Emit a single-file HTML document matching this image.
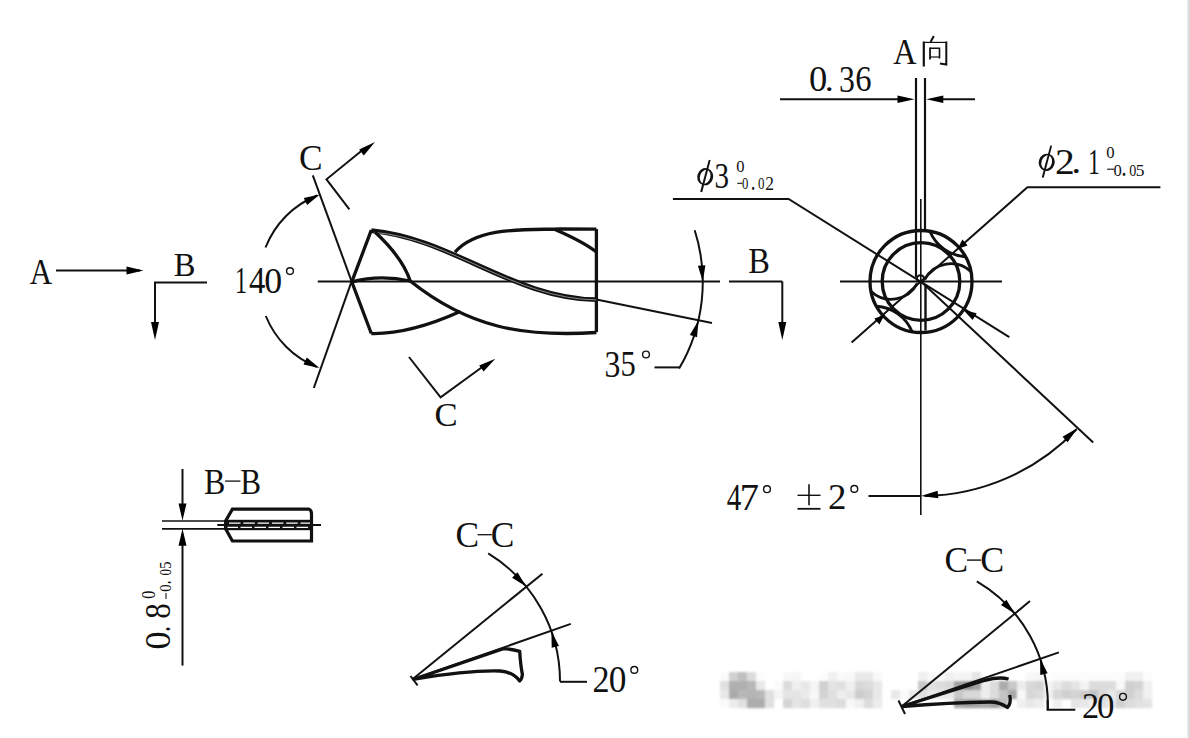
<!DOCTYPE html>
<html><head><meta charset="utf-8"><style>
html,body{margin:0;padding:0;background:#fff;overflow:hidden;}
svg{display:block;}
text{font-family:"Liberation Serif",serif;fill:#111;stroke:none;}
</style></head><body>
<svg width="1190" height="738" viewBox="0 0 1190 738" stroke="#111" fill="none">
<rect x="1187.5" y="0" width="2.5" height="738" fill="#dcdcdc" stroke="none"/>
<defs><filter id="wb" x="-5%" y="-20%" width="110%" height="140%"><feGaussianBlur stdDeviation="0.9"/></filter></defs><g filter="url(#wb)">
<rect x="720" y="672" width="9.2" height="9.2" fill="#fafafa" stroke="none"/>
<rect x="729" y="672" width="9.2" height="9.2" fill="#d0d0d0" stroke="none"/>
<rect x="738" y="672" width="9.2" height="9.2" fill="#c0c0c0" stroke="none"/>
<rect x="747" y="672" width="9.2" height="9.2" fill="#dcdcdc" stroke="none"/>
<rect x="756" y="672" width="9.2" height="9.2" fill="#fcfcfc" stroke="none"/>
<rect x="783" y="672" width="9.2" height="9.2" fill="#f8f8f8" stroke="none"/>
<rect x="792" y="672" width="9.2" height="9.2" fill="#f5f5f5" stroke="none"/>
<rect x="819" y="672" width="9.2" height="9.2" fill="#fcfcfc" stroke="none"/>
<rect x="828" y="672" width="9.2" height="9.2" fill="#f0f0f0" stroke="none"/>
<rect x="837" y="672" width="9.2" height="9.2" fill="#fafafa" stroke="none"/>
<rect x="846" y="672" width="9.2" height="9.2" fill="#f8f8f8" stroke="none"/>
<rect x="855" y="672" width="9.2" height="9.2" fill="#e8e8e8" stroke="none"/>
<rect x="864" y="672" width="9.2" height="9.2" fill="#e8e8e8" stroke="none"/>
<rect x="873" y="672" width="9.2" height="9.2" fill="#f8f8f8" stroke="none"/>
<rect x="918" y="672" width="9.2" height="9.2" fill="#f0f0f0" stroke="none"/>
<rect x="927" y="672" width="9.2" height="9.2" fill="#f8f8f8" stroke="none"/>
<rect x="936" y="672" width="9.2" height="9.2" fill="#f8f8f8" stroke="none"/>
<rect x="945" y="672" width="9.2" height="9.2" fill="#f0f0f0" stroke="none"/>
<rect x="954" y="672" width="9.2" height="9.2" fill="#f4f4f4" stroke="none"/>
<rect x="963" y="672" width="9.2" height="9.2" fill="#f4f4f4" stroke="none"/>
<rect x="972" y="672" width="9.2" height="9.2" fill="#e4e4e4" stroke="none"/>
<rect x="1026" y="672" width="9.2" height="9.2" fill="#f8f8f8" stroke="none"/>
<rect x="1035" y="672" width="9.2" height="9.2" fill="#f4f4f4" stroke="none"/>
<rect x="1053" y="672" width="9.2" height="9.2" fill="#fcfcfc" stroke="none"/>
<rect x="1062" y="672" width="9.2" height="9.2" fill="#fcfcfc" stroke="none"/>
<rect x="1071" y="672" width="9.2" height="9.2" fill="#fcfcfc" stroke="none"/>
<rect x="1080" y="672" width="9.2" height="9.2" fill="#fcfcfc" stroke="none"/>
<rect x="1089" y="672" width="9.2" height="9.2" fill="#fcfcfc" stroke="none"/>
<rect x="1098" y="672" width="9.2" height="9.2" fill="#fcfcfc" stroke="none"/>
<rect x="1107" y="672" width="9.2" height="9.2" fill="#fcfcfc" stroke="none"/>
<rect x="1116" y="672" width="9.2" height="9.2" fill="#fcfcfc" stroke="none"/>
<rect x="1125" y="672" width="9.2" height="9.2" fill="#f0f0f0" stroke="none"/>
<rect x="1134" y="672" width="9.2" height="9.2" fill="#f0f0f0" stroke="none"/>
<rect x="1143" y="672" width="9.2" height="9.2" fill="#fcfcfc" stroke="none"/>
<rect x="720" y="681" width="9.2" height="9.2" fill="#e0e0e0" stroke="none"/>
<rect x="729" y="681" width="9.2" height="9.2" fill="#b0b0b0" stroke="none"/>
<rect x="738" y="681" width="9.2" height="9.2" fill="#b0b0b0" stroke="none"/>
<rect x="747" y="681" width="9.2" height="9.2" fill="#b8b8b8" stroke="none"/>
<rect x="756" y="681" width="9.2" height="9.2" fill="#e8e8e8" stroke="none"/>
<rect x="774" y="681" width="9.2" height="9.2" fill="#fafafa" stroke="none"/>
<rect x="783" y="681" width="9.2" height="9.2" fill="#dcdcdc" stroke="none"/>
<rect x="792" y="681" width="9.2" height="9.2" fill="#f0f0f0" stroke="none"/>
<rect x="801" y="681" width="9.2" height="9.2" fill="#e8e8e8" stroke="none"/>
<rect x="810" y="681" width="9.2" height="9.2" fill="#f5f5f5" stroke="none"/>
<rect x="819" y="681" width="9.2" height="9.2" fill="#d0d0d0" stroke="none"/>
<rect x="828" y="681" width="9.2" height="9.2" fill="#e4e4e4" stroke="none"/>
<rect x="837" y="681" width="9.2" height="9.2" fill="#e0e0e0" stroke="none"/>
<rect x="846" y="681" width="9.2" height="9.2" fill="#f0f0f0" stroke="none"/>
<rect x="855" y="681" width="9.2" height="9.2" fill="#d8d8d8" stroke="none"/>
<rect x="864" y="681" width="9.2" height="9.2" fill="#dcdcdc" stroke="none"/>
<rect x="873" y="681" width="9.2" height="9.2" fill="#e8e8e8" stroke="none"/>
<rect x="918" y="681" width="9.2" height="9.2" fill="#c8c8c8" stroke="none"/>
<rect x="927" y="681" width="9.2" height="9.2" fill="#e0e0e0" stroke="none"/>
<rect x="936" y="681" width="9.2" height="9.2" fill="#dcdcdc" stroke="none"/>
<rect x="945" y="681" width="9.2" height="9.2" fill="#d8d8d8" stroke="none"/>
<rect x="954" y="681" width="9.2" height="9.2" fill="#a0a0a0" stroke="none"/>
<rect x="963" y="681" width="9.2" height="9.2" fill="#909090" stroke="none"/>
<rect x="972" y="681" width="9.2" height="9.2" fill="#a0a0a0" stroke="none"/>
<rect x="981" y="681" width="9.2" height="9.2" fill="#ececec" stroke="none"/>
<rect x="990" y="681" width="9.2" height="9.2" fill="#dcdcdc" stroke="none"/>
<rect x="999" y="681" width="9.2" height="9.2" fill="#acacac" stroke="none"/>
<rect x="1008" y="681" width="9.2" height="9.2" fill="#c8c8c8" stroke="none"/>
<rect x="1017" y="681" width="9.2" height="9.2" fill="#ececec" stroke="none"/>
<rect x="1026" y="681" width="9.2" height="9.2" fill="#d8d8d8" stroke="none"/>
<rect x="1035" y="681" width="9.2" height="9.2" fill="#d4d4d4" stroke="none"/>
<rect x="1044" y="681" width="9.2" height="9.2" fill="#f4f4f4" stroke="none"/>
<rect x="1053" y="681" width="9.2" height="9.2" fill="#e8e8e8" stroke="none"/>
<rect x="1062" y="681" width="9.2" height="9.2" fill="#dcdcdc" stroke="none"/>
<rect x="1071" y="681" width="9.2" height="9.2" fill="#e4e4e4" stroke="none"/>
<rect x="1080" y="681" width="9.2" height="9.2" fill="#f4f4f4" stroke="none"/>
<rect x="1089" y="681" width="9.2" height="9.2" fill="#dcdcdc" stroke="none"/>
<rect x="1098" y="681" width="9.2" height="9.2" fill="#dcdcdc" stroke="none"/>
<rect x="1107" y="681" width="9.2" height="9.2" fill="#dcdcdc" stroke="none"/>
<rect x="1116" y="681" width="9.2" height="9.2" fill="#f8f8f8" stroke="none"/>
<rect x="1125" y="681" width="9.2" height="9.2" fill="#d0d0d0" stroke="none"/>
<rect x="1134" y="681" width="9.2" height="9.2" fill="#d4d4d4" stroke="none"/>
<rect x="1143" y="681" width="9.2" height="9.2" fill="#f0f0f0" stroke="none"/>
<rect x="720" y="690" width="9.2" height="9.2" fill="#e8e8e8" stroke="none"/>
<rect x="729" y="690" width="9.2" height="9.2" fill="#aaaaaa" stroke="none"/>
<rect x="738" y="690" width="9.2" height="9.2" fill="#b8b8b8" stroke="none"/>
<rect x="747" y="690" width="9.2" height="9.2" fill="#b4b4b4" stroke="none"/>
<rect x="756" y="690" width="9.2" height="9.2" fill="#b8b8b8" stroke="none"/>
<rect x="765" y="690" width="9.2" height="9.2" fill="#e0e0e0" stroke="none"/>
<rect x="774" y="690" width="9.2" height="9.2" fill="#f4f4f4" stroke="none"/>
<rect x="783" y="690" width="9.2" height="9.2" fill="#e4e4e4" stroke="none"/>
<rect x="792" y="690" width="9.2" height="9.2" fill="#e4e4e4" stroke="none"/>
<rect x="801" y="690" width="9.2" height="9.2" fill="#ebebeb" stroke="none"/>
<rect x="810" y="690" width="9.2" height="9.2" fill="#f8f8f8" stroke="none"/>
<rect x="819" y="690" width="9.2" height="9.2" fill="#d4d4d4" stroke="none"/>
<rect x="828" y="690" width="9.2" height="9.2" fill="#e0e0e0" stroke="none"/>
<rect x="837" y="690" width="9.2" height="9.2" fill="#eeeeee" stroke="none"/>
<rect x="846" y="690" width="9.2" height="9.2" fill="#e8e8e8" stroke="none"/>
<rect x="855" y="690" width="9.2" height="9.2" fill="#cccccc" stroke="none"/>
<rect x="864" y="690" width="9.2" height="9.2" fill="#d4d4d4" stroke="none"/>
<rect x="873" y="690" width="9.2" height="9.2" fill="#e8e8e8" stroke="none"/>
<rect x="891" y="690" width="9.2" height="9.2" fill="#e8e8e8" stroke="none"/>
<rect x="900" y="690" width="9.2" height="9.2" fill="#fafafa" stroke="none"/>
<rect x="909" y="690" width="9.2" height="9.2" fill="#e8e8e8" stroke="none"/>
<rect x="918" y="690" width="9.2" height="9.2" fill="#e0e0e0" stroke="none"/>
<rect x="927" y="690" width="9.2" height="9.2" fill="#e8e8e8" stroke="none"/>
<rect x="936" y="690" width="9.2" height="9.2" fill="#e8e8e8" stroke="none"/>
<rect x="945" y="690" width="9.2" height="9.2" fill="#e8e8e8" stroke="none"/>
<rect x="954" y="690" width="9.2" height="9.2" fill="#c8c8c8" stroke="none"/>
<rect x="963" y="690" width="9.2" height="9.2" fill="#d8d8d8" stroke="none"/>
<rect x="972" y="690" width="9.2" height="9.2" fill="#d8d8d8" stroke="none"/>
<rect x="981" y="690" width="9.2" height="9.2" fill="#eeeeee" stroke="none"/>
<rect x="990" y="690" width="9.2" height="9.2" fill="#dcdcdc" stroke="none"/>
<rect x="999" y="690" width="9.2" height="9.2" fill="#c4c4c4" stroke="none"/>
<rect x="1008" y="690" width="9.2" height="9.2" fill="#a8a8a8" stroke="none"/>
<rect x="1017" y="690" width="9.2" height="9.2" fill="#f8f8f8" stroke="none"/>
<rect x="1026" y="690" width="9.2" height="9.2" fill="#d8d8d8" stroke="none"/>
<rect x="1035" y="690" width="9.2" height="9.2" fill="#dcdcdc" stroke="none"/>
<rect x="1044" y="690" width="9.2" height="9.2" fill="#f0f0f0" stroke="none"/>
<rect x="1053" y="690" width="9.2" height="9.2" fill="#d8d8d8" stroke="none"/>
<rect x="1062" y="690" width="9.2" height="9.2" fill="#d0d0d0" stroke="none"/>
<rect x="1071" y="690" width="9.2" height="9.2" fill="#d4d4d4" stroke="none"/>
<rect x="1080" y="690" width="9.2" height="9.2" fill="#cccccc" stroke="none"/>
<rect x="1089" y="690" width="9.2" height="9.2" fill="#c4c4c4" stroke="none"/>
<rect x="1098" y="690" width="9.2" height="9.2" fill="#d8d8d8" stroke="none"/>
<rect x="1107" y="690" width="9.2" height="9.2" fill="#e8e8e8" stroke="none"/>
<rect x="1116" y="690" width="9.2" height="9.2" fill="#d8d8d8" stroke="none"/>
<rect x="1125" y="690" width="9.2" height="9.2" fill="#d0d0d0" stroke="none"/>
<rect x="1134" y="690" width="9.2" height="9.2" fill="#dcdcdc" stroke="none"/>
<rect x="1143" y="690" width="9.2" height="9.2" fill="#f0f0f0" stroke="none"/>
<rect x="720" y="699" width="9.2" height="9.2" fill="#fafafa" stroke="none"/>
<rect x="729" y="699" width="9.2" height="9.2" fill="#ececec" stroke="none"/>
<rect x="738" y="699" width="9.2" height="9.2" fill="#e0e0e0" stroke="none"/>
<rect x="747" y="699" width="9.2" height="9.2" fill="#adadad" stroke="none"/>
<rect x="756" y="699" width="9.2" height="9.2" fill="#adadad" stroke="none"/>
<rect x="765" y="699" width="9.2" height="9.2" fill="#e0e0e0" stroke="none"/>
<rect x="783" y="699" width="9.2" height="9.2" fill="#d4d4d4" stroke="none"/>
<rect x="792" y="699" width="9.2" height="9.2" fill="#e4e4e4" stroke="none"/>
<rect x="801" y="699" width="9.2" height="9.2" fill="#dedede" stroke="none"/>
<rect x="810" y="699" width="9.2" height="9.2" fill="#f0f0f0" stroke="none"/>
<rect x="819" y="699" width="9.2" height="9.2" fill="#e0e0e0" stroke="none"/>
<rect x="828" y="699" width="9.2" height="9.2" fill="#e0e0e0" stroke="none"/>
<rect x="837" y="699" width="9.2" height="9.2" fill="#dcdcdc" stroke="none"/>
<rect x="846" y="699" width="9.2" height="9.2" fill="#f8f8f8" stroke="none"/>
<rect x="855" y="699" width="9.2" height="9.2" fill="#f0f0f0" stroke="none"/>
<rect x="864" y="699" width="9.2" height="9.2" fill="#dcdcdc" stroke="none"/>
<rect x="873" y="699" width="9.2" height="9.2" fill="#ececec" stroke="none"/>
<rect x="954" y="699" width="9.2" height="9.2" fill="#a8a8a8" stroke="none"/>
<rect x="963" y="699" width="9.2" height="9.2" fill="#a0a0a0" stroke="none"/>
<rect x="972" y="699" width="9.2" height="9.2" fill="#a4a4a4" stroke="none"/>
<rect x="981" y="699" width="9.2" height="9.2" fill="#a8a8a8" stroke="none"/>
<rect x="990" y="699" width="9.2" height="9.2" fill="#a0a0a0" stroke="none"/>
<rect x="999" y="699" width="9.2" height="9.2" fill="#c0c0c0" stroke="none"/>
<rect x="1017" y="699" width="9.2" height="9.2" fill="#f0f0f0" stroke="none"/>
<rect x="1026" y="699" width="9.2" height="9.2" fill="#e8e8e8" stroke="none"/>
<rect x="1035" y="699" width="9.2" height="9.2" fill="#eeeeee" stroke="none"/>
<rect x="1053" y="699" width="9.2" height="9.2" fill="#f0f0f0" stroke="none"/>
<rect x="1071" y="699" width="9.2" height="9.2" fill="#e4e4e4" stroke="none"/>
<rect x="1080" y="699" width="9.2" height="9.2" fill="#e8e8e8" stroke="none"/>
<rect x="1089" y="699" width="9.2" height="9.2" fill="#f0f0f0" stroke="none"/>
<rect x="1098" y="699" width="9.2" height="9.2" fill="#e0e0e0" stroke="none"/>
<rect x="1107" y="699" width="9.2" height="9.2" fill="#e8e8e8" stroke="none"/>
<rect x="1116" y="699" width="9.2" height="9.2" fill="#d0d0d0" stroke="none"/>
<rect x="1125" y="699" width="9.2" height="9.2" fill="#dcdcdc" stroke="none"/>
<rect x="1134" y="699" width="9.2" height="9.2" fill="#e0e0e0" stroke="none"/>
<rect x="1143" y="699" width="9.2" height="9.2" fill="#e4e4e4" stroke="none"/>
</g>
<text transform="translate(29.79,283.53) scale(0.848,1)" font-size="36.56">A</text>
<line x1="56.0" y1="270.5" x2="140.0" y2="270.5" stroke-width="2.0"/>
<polygon points="143.5,270.5 126.5,274.5 126.5,266.5" stroke="none" fill="#000"/>
<text transform="translate(173.72,276.34) scale(0.966,1)" font-size="33.75">B</text>
<path d="M207,282.5 H155 V325" stroke-width="2.0" fill="none" />
<polygon points="155.0,340.0 151.0,322.0 159.0,322.0" stroke="none" fill="#000"/>
<line x1="312.8" y1="175.4" x2="351.6" y2="281.3" stroke-width="2.0"/>
<line x1="351.6" y1="281.3" x2="313.8" y2="388.0" stroke-width="2.0"/>
<path d="M265.5,247.5 A92.5,92.5 0 0 1 316.9,195.5" stroke-width="2.0" fill="none" />
<polygon points="319.8,194.4 307.1,204.9 303.8,198.0" stroke="none" fill="#000"/>
<path d="M265.8,316.0 A92.5,92.5 0 0 0 316.9,367.1" stroke-width="2.0" fill="none" />
<polygon points="319.5,368.1 303.5,364.4 306.8,357.6" stroke="none" fill="#000"/>
<text transform="translate(235.03,293.27) scale(0.653,1)" font-size="36.92">1</text>
<text transform="translate(248.95,293.27) scale(0.871,1)" font-size="37.50">4</text>
<text transform="translate(264.27,292.54) scale(0.986,1)" font-size="36.36">0</text>
<circle cx="290" cy="271.1" r="3.4" stroke-width="1.4" fill="none"/>
<text transform="translate(299.09,169.74) scale(0.980,1)" font-size="36.06">C</text>
<path d="M349.4,209.3 L326.5,179.3 L365,148" stroke-width="2.0" fill="none" />
<polygon points="375.0,142.0 363.8,155.4 359.2,149.4" stroke="none" fill="#000"/>
<path d="M409,357 L440.6,397.3 L485,365" stroke-width="2.0" fill="none" />
<polygon points="495.3,358.7 483.6,371.6 479.2,365.4" stroke="none" fill="#000"/>
<text transform="translate(434.51,426.37) scale(1.054,1)" font-size="32.88">C</text>
<line x1="317.8" y1="281.4" x2="720.0" y2="281.4" stroke-width="2.0"/>
<line x1="729.0" y1="281.4" x2="782.3" y2="281.4" stroke-width="2.0"/>
<path d="M782.3,281.4 V322" stroke-width="2.0" fill="none" />
<polygon points="782.3,340.0 778.3,322.0 786.3,322.0" stroke="none" fill="#000"/>
<text transform="translate(748.33,272.75) scale(0.926,1)" font-size="35.00">B</text>
<path d="M371.3,333.5 L351.8,281.8 L371.3,230.2" stroke-width="3.3" fill="none" />
<path d="M596.4,229.1 V332.1" stroke-width="3.3" fill="none" />
<path d="M371.3,230.6 C451.6,238.2 513.6,298.6 596.4,299.7" stroke-width="4.8" fill="none" />
<path d="M374,232.3 C451.6,238.7 513.6,298.8 596.4,299.9" stroke-width="0.8" fill="none" stroke="#aaa"/>
<path d="M375.0,232.0 C389.6,245.6 403.9,261.6 410.2,281.0" stroke-width="3.3" fill="none" />
<path d="M351.8,281.8 Q380,274.5 410.2,281" stroke-width="3.3" fill="none" />
<path d="M410.2,281.0 C468.7,327.6 522.7,337.2 596.4,332.5" stroke-width="3.3" fill="none" />
<path d="M371.3,333.5 Q409.6,334.3 460.2,311.5" stroke-width="3.3" fill="none" />
<path d="M455.0,252.2 C478.0,225.8 528.6,230.1 560.0,229.0 L596.4,229.1" stroke-width="3.3" fill="none" />
<path d="M555,229.5 Q583.7,242 596.4,252" stroke-width="3.3" fill="none" />
<line x1="596.4" y1="299.5" x2="712.0" y2="323.0" stroke-width="2.0"/>
<path d="M694.7,230.3 A170.1,170.1 0 0 1 679.1,368.6" stroke-width="2.0" fill="none" />
<polygon points="702.8,281.4 697.9,265.7 705.4,265.2" stroke="none" fill="#000"/>
<polygon points="698.3,320.8 697.1,337.2 689.8,334.9" stroke="none" fill="#000"/>
<path d="M679.8,367.4 H654.5" stroke-width="2.0" fill="none" />
<text transform="translate(604.51,376.60) scale(0.842,1)" font-size="37.69">3</text>
<text transform="translate(620.57,376.40) scale(0.844,1)" font-size="36.15">5</text>
<circle cx="646" cy="354.5" r="3.4" stroke-width="1.4" fill="none"/>
<line x1="916.0" y1="78.0" x2="916.0" y2="277.0" stroke-width="2.2"/>
<line x1="925.0" y1="78.0" x2="925.0" y2="230.0" stroke-width="2.2"/>
<line x1="920.8" y1="199.0" x2="920.8" y2="515.0" stroke-width="1.6"/>
<line x1="840.0" y1="281.5" x2="1002.0" y2="281.5" stroke-width="2.0"/>
<circle cx="921" cy="281.5" r="51" stroke-width="3.3" fill="none"/>
<circle cx="921" cy="281.5" r="38.8" stroke-width="3.3" fill="none"/>
<circle cx="920.5" cy="278.8" r="3.6" stroke-width="2" fill="none"/>
<line x1="925.5" y1="284.0" x2="925.5" y2="330.6" stroke-width="2.4"/>
<path d="M917.2,283.5 A29.5,29.5 0 0 1 870.9,291.2" stroke-width="2.7" fill="none" />
<path d="M924.8,279.5 A29.5,29.5 0 0 1 971.1,271.8" stroke-width="2.7" fill="none" />
<path d="M876.4,306.3 A41.2,41.2 0 0 1 912.1,331.7" stroke-width="2.9" fill="none" />
<path d="M965.6,256.7 A41.2,41.2 0 0 1 929.9,231.3" stroke-width="2.9" fill="none" />
<line x1="780.0" y1="99.2" x2="900.0" y2="99.2" stroke-width="2.0"/>
<polygon points="914.5,99.2 897.5,103.0 897.5,95.4" stroke="none" fill="#000"/>
<line x1="940.0" y1="99.2" x2="975.0" y2="99.2" stroke-width="2.0"/>
<polygon points="926.3,99.2 943.3,95.4 943.3,103.0" stroke="none" fill="#000"/>
<text transform="translate(809.04,91.44) scale(1.006,1)" font-size="36.36">0</text>
<text transform="translate(824.78,91.20) scale(1.131,1)" font-size="31.82">.</text>
<text transform="translate(839.11,91.80) scale(0.860,1)" font-size="36.92">3</text>
<text transform="translate(855.20,91.44) scale(0.897,1)" font-size="36.36">6</text>
<text transform="translate(893.28,64.13) scale(0.884,1)" font-size="36.41">A</text>
<path d="M923.8,41.5 V66.5" stroke-width="2.2" fill="none" />
<path d="M923.8,42.4 H946.5" stroke-width="1.2" fill="none" />
<path d="M946.3,41.5 V64.5 L940,63.5" stroke-width="2.0" fill="none" />
<path d="M930,47.6 V59.4" stroke-width="1.8" fill="none" />
<path d="M930,48.2 H939.5 V58.5" stroke-width="1.6" fill="none" />
<path d="M930,57 H939.5" stroke-width="1.2" fill="none" />
<path d="M933.8,36 L930.6,42" stroke-width="2.0" fill="none" />
<path d="M672.9,199 H788.6 L1009.3,337.2" stroke-width="2.0" fill="none" />
<polygon points="963.5,310.0 976.7,313.2 972.6,320.1" stroke="none" fill="#000"/>
<g transform="translate(705.2,176.7) rotate(18) scale(1.75,1)"><ellipse cx="0" cy="0" rx="3.75" ry="7.9" stroke-width="1.55" fill="none"/></g>
<path d="M710.6,160.2 L708.8,159.8 L700.2,191.8 L702.2,192.2 Z" stroke="none" fill="#111"/>
<text transform="translate(714.55,187.70) scale(0.834,1)" font-size="34.77">3</text>
<text transform="translate(736.24,172.43) scale(0.977,1)" font-size="16.97">0</text>
<line x1="737.3" y1="183.3" x2="742.2" y2="183.3" stroke-width="1.1"/>
<text transform="translate(742.09,189.43) scale(0.728,1)" font-size="17.42">0</text>
<text transform="translate(750.67,189.60) scale(0.697,1)" font-size="27.27">.</text>
<text transform="translate(757.88,189.43) scale(0.742,1)" font-size="17.42">0</text>
<text transform="translate(765.30,189.78) scale(0.970,1)" font-size="17.97">2</text>
<path d="M1160.4,187.3 H1027.4 L851.6,342.6" stroke-width="2.0" fill="none" />
<polygon points="957.5,249.0 962.4,239.4 967.6,245.4" stroke="none" fill="#000"/>
<polygon points="884.5,315.0 879.4,324.5 874.3,318.4" stroke="none" fill="#000"/>
<g transform="translate(1046.7,162.3) rotate(18) scale(1.75,1)"><ellipse cx="0" cy="0" rx="3.75" ry="7.9" stroke-width="1.55" fill="none"/></g>
<path d="M1052.1,145.8 L1050.3,145.4 L1041.7,177.4 L1043.7,177.8 Z" stroke="none" fill="#111"/>
<text transform="translate(1055.02,173.57) scale(1.075,1)" font-size="36.72">2</text>
<text transform="translate(1071.20,173.20) scale(1.222,1)" font-size="32.73">.</text>
<text transform="translate(1088.34,173.56) scale(0.635,1)" font-size="36.15">1</text>
<text transform="translate(1106.34,158.44) scale(1.053,1)" font-size="15.76">0</text>
<line x1="1107.1" y1="169.2" x2="1114.0" y2="169.2" stroke-width="1.1"/>
<text transform="translate(1113.44,175.53) scale(0.960,1)" font-size="17.27">0</text>
<text transform="translate(1121.16,175.70) scale(0.781,1)" font-size="28.18">.</text>
<text transform="translate(1129.13,175.53) scale(0.819,1)" font-size="17.27">0</text>
<text transform="translate(1135.75,175.70) scale(0.994,1)" font-size="17.54">5</text>
<line x1="921.0" y1="281.5" x2="1093.2" y2="442.5" stroke-width="2.0"/>
<path d="M1076.6,429.2 A214.5,214.5 0 0 1 924.7,496.0" stroke-width="2.0" fill="none" />
<polygon points="1077.6,428.1 1067.6,442.3 1062.5,436.7" stroke="none" fill="#000"/>
<polygon points="921.0,496.0 937.6,490.7 938.3,498.3" stroke="none" fill="#000"/>
<line x1="868.5" y1="496.0" x2="920.5" y2="496.0" stroke-width="2.0"/>
<text transform="translate(726.72,509.98) scale(0.770,1)" font-size="37.81">4</text>
<text transform="translate(739.71,509.98) scale(1.017,1)" font-size="37.81">7</text>
<circle cx="767" cy="489.2" r="3.4" stroke-width="1.4" fill="none"/>
<line x1="797.5" y1="495.3" x2="820.5" y2="495.3" stroke-width="1.4"/>
<line x1="809.0" y1="484.2" x2="809.0" y2="505.2" stroke-width="1.6"/>
<line x1="797.5" y1="508.8" x2="820.5" y2="508.8" stroke-width="1.8"/>
<text transform="translate(827.92,509.26) scale(1.023,1)" font-size="36.09">2</text>
<circle cx="854.3" cy="488.9" r="3.4" stroke-width="1.4" fill="none"/>
<text transform="translate(204.04,493.95) scale(0.912,1)" font-size="35.16">B</text>
<line x1="225.1" y1="481.1" x2="240.4" y2="481.1" stroke-width="1.3"/>
<text transform="translate(240.16,493.95) scale(0.888,1)" font-size="35.16">B</text>
<line x1="182.5" y1="469.0" x2="182.5" y2="505.0" stroke-width="2.0"/>
<polygon points="182.5,520.5 178.5,503.5 186.5,503.5" stroke="none" fill="#000"/>
<line x1="182.5" y1="545.0" x2="182.5" y2="665.6" stroke-width="2.0"/>
<polygon points="182.5,528.8 186.5,545.8 178.5,545.8" stroke="none" fill="#000"/>
<line x1="162.0" y1="521.0" x2="226.0" y2="521.0" stroke-width="1.7"/>
<line x1="162.0" y1="528.8" x2="226.0" y2="528.8" stroke-width="1.7"/>
<path d="M232.4,509.2 H309 Q311.5,510 311.5,514 V541 H232.4 L225.6,528.8 V521 Z" stroke-width="3.2" fill="none" />
<rect x="225.6" y="519.8" width="86" height="10.4" fill="#111" stroke="none"/>
<path d="M229,523.1 H310" stroke-width="1.3" fill="none" stroke="#fff" stroke-dasharray="11.5 2.8"/>
<path d="M227.5,527.3 H310" stroke-width="1.3" fill="none" stroke="#fff" stroke-dasharray="11.5 2.5" stroke-dashoffset="1"/>
<line x1="217.3" y1="525.0" x2="321.0" y2="525.0" stroke-width="2.0"/>
<text transform="translate(170.03,649.54) rotate(-90) scale(0.984,1)" font-size="36.67">0</text>
<text transform="translate(169.70,632.32) rotate(-90) scale(0.753,1)" font-size="34.55">.</text>
<text transform="translate(170.03,618.84) rotate(-90) scale(0.845,1)" font-size="36.67">8</text>
<text transform="translate(155.32,598.65) rotate(-90) scale(0.899,1)" font-size="18.18">0</text>
<line x1="166.0" y1="593.0" x2="166.0" y2="599.0" stroke-width="1.1"/>
<text transform="translate(170.94,591.79) rotate(-90) scale(0.911,1)" font-size="16.06">0</text>
<text transform="translate(171.10,584.01) rotate(-90) scale(0.477,1)" font-size="27.27">.</text>
<text transform="translate(170.94,575.42) rotate(-90) scale(0.805,1)" font-size="16.06">0</text>
<text transform="translate(171.10,569.01) rotate(-90) scale(0.928,1)" font-size="16.31">5</text>
<text transform="translate(455.49,547.13) scale(0.964,1)" font-size="36.67">C</text>
<line x1="477.6" y1="534.7" x2="491.8" y2="534.7" stroke-width="1.3"/>
<text transform="translate(490.79,547.13) scale(0.964,1)" font-size="36.67">C</text>
<line x1="412.2" y1="679.5" x2="542.4" y2="573.7" stroke-width="2.0"/>
<line x1="412.2" y1="679.5" x2="570.8" y2="623.9" stroke-width="2.0"/>
<path d="M488.2,553.4 A150,150 0 0 1 560.0,681.4" stroke-width="2.0" fill="none" />
<polygon points="526.1,586.4 512.1,577.7 517.5,572.3" stroke="none" fill="#000"/>
<polygon points="551.4,631.3 559.0,645.9 551.7,647.8" stroke="none" fill="#000"/>
<line x1="560.0" y1="681.8" x2="587.0" y2="681.8" stroke-width="2.0"/>
<path d="M414.5,679 L503.3,648.7 Q512,649 519.7,651.4 Q520.5,665 522.4,674.3 Q522,679 519.7,680.9 Q513,672 500,671 Q470,670 414.5,679 Z" stroke-width="3.3" fill="none" stroke-linejoin="round"/>
<line x1="410.5" y1="676.0" x2="417.6" y2="685.3" stroke-width="2.0"/>
<text transform="translate(592.54,692.07) scale(0.925,1)" font-size="36.87">2</text>
<text transform="translate(608.69,691.63) scale(0.953,1)" font-size="37.12">0</text>
<circle cx="634.3" cy="669.9" r="3.4" stroke-width="1.4" fill="none"/>
<text transform="translate(944.59,571.94) scale(0.989,1)" font-size="35.76">C</text>
<line x1="967.0" y1="560.1" x2="981.2" y2="560.1" stroke-width="1.4"/>
<text transform="translate(980.16,571.94) scale(1.004,1)" font-size="35.76">C</text>
<line x1="901.6" y1="706.5" x2="1030.0" y2="601.1" stroke-width="2.0"/>
<line x1="901.6" y1="706.5" x2="1058.9" y2="652.4" stroke-width="2.0"/>
<path d="M976.8,581.3 A143.6,143.6 0 0 1 1047.8,710.3" stroke-width="2.0" fill="none" />
<polygon points="1014.9,613.8 1001.0,605.1 1006.4,599.7" stroke="none" fill="#000"/>
<polygon points="1040.1,658.5 1047.6,673.2 1040.3,675.0" stroke="none" fill="#000"/>
<path d="M1047.6,700 V709.8 H1075.3" stroke-width="2.0" fill="none" />
<path d="M901.6,706.5 L985,680.3 Q999,676.5 1008.6,679 M1009.7,695 Q1011.5,703 1007.5,707.5 Q1000,702 990,702 Q950,702.5 901.6,706.5" stroke-width="3.3" fill="none" stroke-linejoin="round"/>
<line x1="898.5" y1="700.5" x2="905.0" y2="714.0" stroke-width="2.0"/>
<text transform="translate(1081.93,718.05) scale(0.973,1)" font-size="35.31">2</text>
<text transform="translate(1097.00,717.74) scale(0.967,1)" font-size="36.06">0</text>
<circle cx="1123" cy="696.8" r="3.4" stroke-width="1.4" fill="none"/>
</svg>
</body></html>
